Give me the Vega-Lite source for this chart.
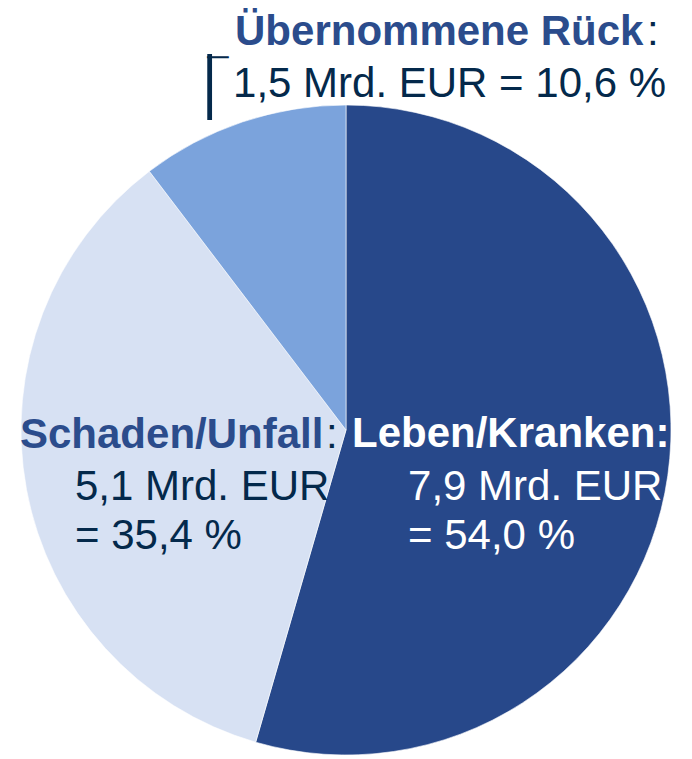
{
  "$schema": "https://vega.github.io/schema/vega-lite/v6.json",
  "width": 652,
  "height": 650,
  "autosize": {"type": "none"},
  "padding": {"top": 105, "left": 20, "right": 20, "bottom": 4},
  "background": "white",
  "view": {"stroke": null},
  "config": {"text": {"font": "Liberation Sans", "fontSize": 42, "align": "left", "baseline": "alphabetic", "radius": 200}},
  "data": {"values": [
    {"cat": "Leben/Kranken", "mrd": 7.9, "title": "Leben/Kranken:", "amount": "7,9 Mrd. EUR\n= 54,0 %"},
    {"cat": "Schaden/Unfall", "mrd": 5.1, "title": "Schaden/Unfall", "amount": "5,1 Mrd. EUR\n= 35,4 %"},
    {"cat": "Übernommene Rück", "mrd": 1.5, "title": "Übernommene Rück", "amount": "1,5 Mrd. EUR = 10,6 %"}
  ]},
  "encoding": {
    "theta": {"field": "mrd", "type": "quantitative", "stack": true},
    "order": {"field": "mrd", "sort": "descending"}
  },
  "layer": [
    {
      "mark": {"type": "arc", "stroke": "#ffffff", "strokeWidth": 0.6},
      "encoding": {
        "color": {"field": "cat", "type": "nominal", "legend": null,
          "scale": {"domain": ["Leben/Kranken", "Schaden/Unfall", "Übernommene Rück"], "range": ["#27488A", "#D7E1F3", "#7BA3DC"]}}
      }
    },
    {
      "mark": {"type": "text", "fontWeight": "bold", "color": "#ffffff", "dx": -192.0, "dy": -11.1},
      "encoding": {"text": {"condition": {"test": "datum.cat === 'Leben/Kranken'", "field": "title"}, "value": ""}}
    },
    {
      "mark": {"type": "text", "color": "#ffffff", "dx": -136.0, "dy": 41.9, "lineBreak": "\n", "lineHeight": 49},
      "encoding": {"text": {"condition": {"test": "datum.cat === 'Leben/Kranken'", "field": "amount"}, "value": ""}}
    },
    {
      "mark": {"type": "text", "fontWeight": "bold", "color": "#2B4C8C", "dx": -129.4, "dy": -18.6},
      "encoding": {"text": {"condition": {"test": "datum.cat === 'Schaden/Unfall'", "field": "title"}, "value": ""}}
    },
    {
      "mark": {"type": "text", "color": "#04294B", "dx": 176.6, "dy": -18.6},
      "encoding": {"text": {"condition": {"test": "datum.cat === 'Schaden/Unfall'", "value": ":"}, "value": ""}}
    },
    {
      "mark": {"type": "text", "color": "#04294B", "dx": -74.4, "dy": 33.4, "lineBreak": "\n", "lineHeight": 49},
      "encoding": {"text": {"condition": {"test": "datum.cat === 'Schaden/Unfall'", "field": "amount"}, "value": ""}}
    },
    {
      "mark": {"type": "text", "fontWeight": "bold", "color": "#2B4C8C", "dx": -47.1, "dy": -195.5},
      "encoding": {"text": {"condition": {"test": "datum.cat === 'Übernommene Rück'", "field": "title"}, "value": ""}}
    },
    {
      "mark": {"type": "text", "color": "#04294B", "dx": 364.9, "dy": -195.5},
      "encoding": {"text": {"condition": {"test": "datum.cat === 'Übernommene Rück'", "value": ":"}, "value": ""}}
    },
    {
      "mark": {"type": "text", "color": "#04294B", "dx": -49.1, "dy": -143.5},
      "encoding": {"text": {"condition": {"test": "datum.cat === 'Übernommene Rück'", "field": "amount"}, "value": ""}}
    },
    {
      "mark": {"type": "text", "font": "Lato", "fontWeight": 400, "fontSize": 69, "align": "center", "color": "#04294B", "dx": -72.5, "dy": -132.8},
      "encoding": {"text": {"condition": {"test": "datum.cat === 'Übernommene Rück'", "value": "|"}, "value": ""}}
    },
    {
      "mark": {"type": "text", "font": "Lato", "fontWeight": 700, "fontSize": 23, "align": "center", "angle": 90, "color": "#04294B", "dx": -183.3, "dy": 71.3},
      "encoding": {"text": {"condition": {"test": "datum.cat === 'Übernommene Rück'", "value": "|"}, "value": ""}}
    }
  ]
}
